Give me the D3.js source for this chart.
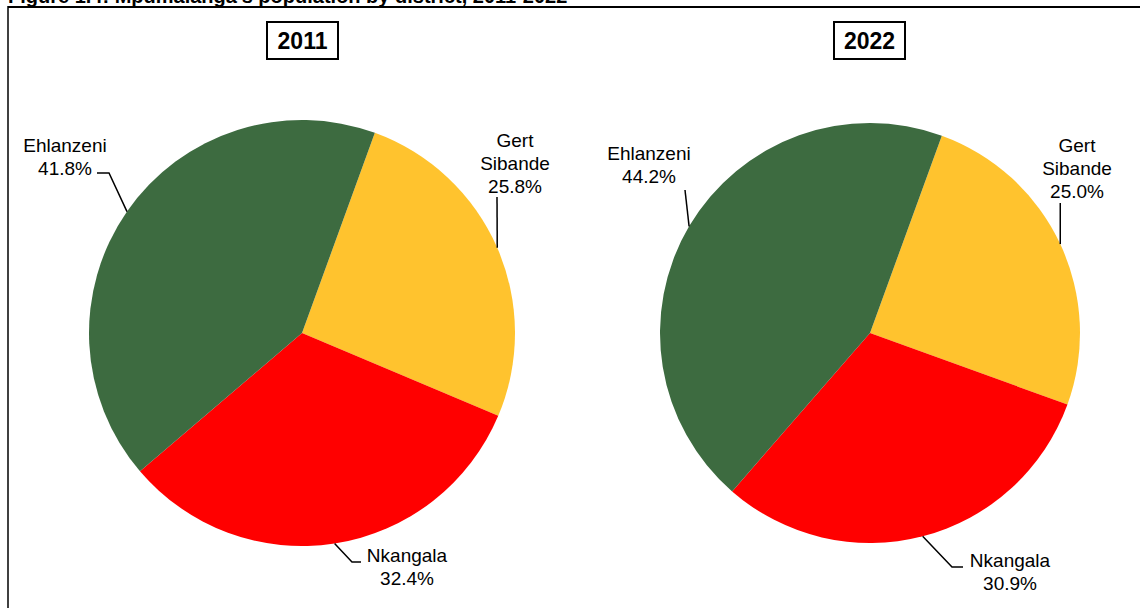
<!DOCTYPE html>
<html>
<head>
<meta charset="utf-8">
<script src="https://cdn.jsdelivr.net/npm/d3@7/dist/d3.min.js"></script>
<style>
  html, body { margin: 0; padding: 0; background: #fff; }
  svg { display: block; font-family: "Liberation Sans", Arial, sans-serif; }
</style>
</head>
<body>
<svg id="chart" width="1140" height="608"></svg>
<script>
// Mpumalanga population share by district (%)
const districts = ["Gert Sibande", "Nkangala", "Ehlanzeni"];
const years = ["2011", "2022"];
const share2011 = [25.8, 32.4, 41.8];
const share2022 = [25.0, 30.9, 44.2];
const districtColors = ["#FFC32E", "#FF0000", "#3D6B40"];
const titleText = "Figure 1.4: Mpumalanga's population by district, 2011-2022";

const svg = d3.select("#chart");

// clipped figure caption and frame
svg.append("text")
  .attr("x", 8).attr("y", 3)
  .attr("font-size", 20).attr("font-weight", "bold")
  .text(titleText);

svg.append("line").attr("x1", 8).attr("x2", 1140).attr("y1", 7).attr("y2", 7)
  .attr("stroke", "#000").attr("stroke-width", 2);
svg.append("line").attr("x1", 8).attr("x2", 8).attr("y1", 6).attr("y2", 608)
  .attr("stroke", "#000").attr("stroke-width", 1.5);

const color = d3.scaleOrdinal().domain(districts).range(districtColors);

const pie = d3.pie()
  .sort(null)
  .value(d => d.value)
  .startAngle(20 * Math.PI / 180)
  .endAngle(20 * Math.PI / 180 + 2 * Math.PI);

// layout for each panel: centre, radius, year box and label placement
const panels = [
  {
    year: years[0], values: share2011, cx: 302, cy: 333, r: 213, boxX: 267,
    labels: {
      "Gert Sibande": { lines: ["Gert", "Sibande"], tx: 515, ty: 147, anchor: "middle", path: p => [p, [497, 197]] },
      "Nkangala":     { lines: ["Nkangala"], tx: 407, ty: 562, anchor: "middle", path: p => [p, [352, 562], [361, 562]] },
      "Ehlanzeni":    { lines: ["Ehlanzeni"], tx: 65, ty: 152, anchor: "middle", path: p => [p, [109, 173], [97, 173]] }
    }
  },
  {
    year: years[1], values: share2022, cx: 870, cy: 333, r: 210, boxX: 834,
    labels: {
      "Gert Sibande": { lines: ["Gert", "Sibande"], tx: 1077, ty: 152, anchor: "middle", path: p => [p, [p[0], 203]] },
      "Nkangala":     { lines: ["Nkangala"], tx: 1010, ty: 567, anchor: "middle", path: p => [p, [952, 567], [963, 567]] },
      "Ehlanzeni":    { lines: ["Ehlanzeni"], tx: 649, ty: 160, anchor: "middle", path: p => [p, [685, 190]] }
    }
  }
];

const lineGen = d3.line();

panels.forEach(panel => {
  const data = districts.map((name, i) => ({ name, value: panel.values[i] }));
  const arcs = pie(data);
  const arc = d3.arc().innerRadius(0).outerRadius(panel.r);

  const g = svg.append("g").attr("transform", `translate(${panel.cx},${panel.cy})`);
  g.selectAll("path.slice")
    .data(arcs)
    .join("path")
    .attr("class", "slice")
    .attr("d", arc)
    .attr("fill", d => color(d.data.name));

  // year box
  svg.append("rect")
    .attr("x", panel.boxX).attr("y", 22).attr("width", 71).attr("height", 37)
    .attr("fill", "#fff").attr("stroke", "#000").attr("stroke-width", 2);
  svg.append("text")
    .attr("x", panel.boxX + 35.5).attr("y", 49)
    .attr("text-anchor", "middle")
    .attr("font-size", 23).attr("font-weight", "bold")
    .text(panel.year);

  // labels with leader lines from the slice's outer midpoint
  arcs.forEach(a => {
    const spec = panel.labels[a.data.name];
    const mid = (a.startAngle + a.endAngle) / 2;
    const edge = [panel.cx + panel.r * Math.sin(mid), panel.cy - panel.r * Math.cos(mid)];
    svg.append("path")
      .attr("d", lineGen(spec.path(edge)))
      .attr("fill", "none").attr("stroke", "#000").attr("stroke-width", 1.5);

    const lines = spec.lines.concat([d3.format(".1f")(a.data.value) + "%"]);
    const t = svg.append("text")
      .attr("text-anchor", spec.anchor)
      .attr("font-size", 19)
      .attr("fill", "#000");
    lines.forEach((s, i) => {
      t.append("tspan").attr("x", spec.tx).attr("y", spec.ty + i * 22.8).text(s);
    });
  });
});
</script>
</body>
</html>
